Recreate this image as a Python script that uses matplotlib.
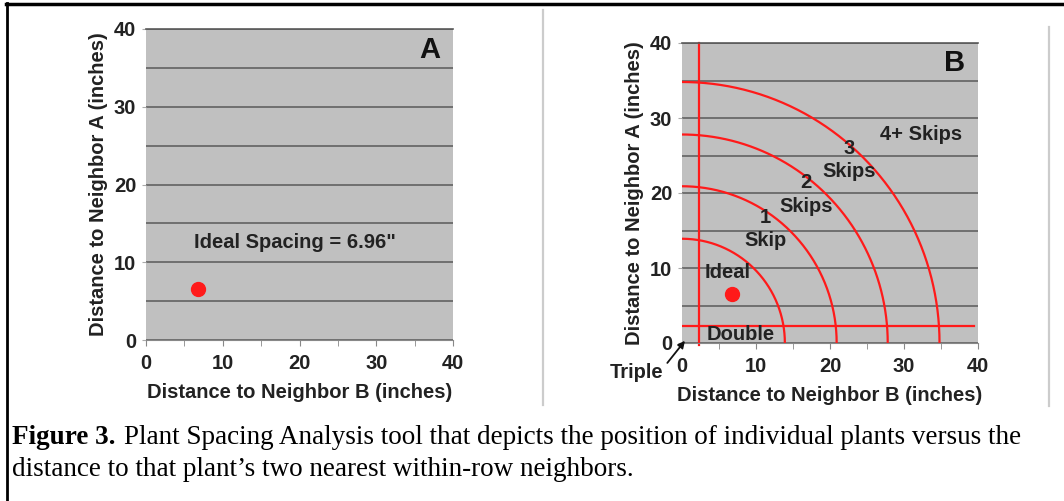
import numpy as np
import matplotlib
matplotlib.use("Agg")
import matplotlib.pyplot as plt
from matplotlib.lines import Line2D

# values
major_ticks = [0, 10, 20, 30, 40]
minor_ticks = [5, 15, 25, 35]
ideal_spacing = 6.96
plant_x = [6.8]
plant_y = [6.6]
double_limit = 2.3                      # red lines in panel B
skip_radii = [13.9, 20.9, 27.8, 34.8]   # arcs in panel B
zone_labels = ["1\nSkip", "2\nSkips", "3\nSkips", "4+ Skips"]
zone_x = [11.3, 16.8, 22.6, 32.3]
zone_y = [15.2, 19.8, 24.4, 27.8]

W, H = 1064, 501
GRAY_BG = "#c0c0c0"
GRID = "#5a5a5a"
TXT = "#222222"
RED = "#ff1a1a"
FS = 14.5

plt.rcParams["font.family"] = ["Liberation Sans", "DejaVu Sans"]

fig = plt.figure(figsize=(W / 100, H / 100), dpi=100)


def px_axes(left, top, right, bottom):
    return fig.add_axes([left / W, 1 - bottom / H, (right - left) / W, (bottom - top) / H])


def style_panel(ax, letter):
    ax.set_facecolor(GRAY_BG)
    ax.set_xlim(0, 40)
    ax.set_ylim(0, 40)
    ax.set_xticks(major_ticks)
    ax.set_xticks(minor_ticks, minor=True)
    ax.set_yticks(major_ticks)
    ax.set_yticks(minor_ticks, minor=True)
    ax.yaxis.grid(True, which="both", color=GRID, lw=1.1)
    ax.set_axisbelow(True)
    for s in ["left", "right"]:
        ax.spines[s].set_visible(False)
    ax.spines["top"].set_color(GRID)
    ax.spines["top"].set_linewidth(1.2)
    ax.spines["bottom"].set_color("#888888")
    ax.tick_params(axis="x", which="both", direction="out", length=4, color="#888888",
                   labelsize=FS, labelcolor=TXT, pad=6)
    ax.tick_params(axis="y", which="major", direction="out", length=3, color="#aaaaaa",
                   labelsize=FS, labelcolor=TXT, pad=4)
    ax.tick_params(axis="y", which="minor", length=0)
    for lab in ax.get_xticklabels() + ax.get_yticklabels():
        lab.set_fontweight("bold")
    ax.set_xlabel("Distance to Neighbor B (inches)", fontsize=FS, fontweight="bold",
                  color=TXT, labelpad=7)
    ax.set_ylabel("Distance to Neighbor A (inches)", fontsize=FS, fontweight="bold",
                  color=TXT, labelpad=4)
    ax.text(38.3, 37.3, letter, fontsize=21, fontweight="bold", color="#111111",
            ha="right", va="center")


# panel A
axA = px_axes(146, 29, 453, 340)
style_panel(axA, "A")
axA.plot(plant_x, plant_y, "o", color=RED, ms=10, mec=RED)
axA.text(6.2, 12.5, 'Ideal Spacing = %.2f"' % ideal_spacing, fontsize=FS,
         fontweight="bold", color=TXT, va="center")

# panel B
axB = px_axes(682, 43, 978, 343)
style_panel(axB, "B")
axB.axvline(double_limit, color=RED, lw=1.6, clip_on=False, ymin=-0.005, ymax=1)
axB.plot([0, 39.5], [double_limit, double_limit], color=RED, lw=1.6)
theta = np.linspace(0, np.pi / 2, 200)
for r in skip_radii:
    axB.plot(r * np.cos(theta), r * np.sin(theta), color=RED, lw=1.6)
axB.plot(plant_x, plant_y, "o", color=RED, ms=10, mec=RED)
axB.text(6.1, 9.4, "Ideal", fontsize=FS, fontweight="bold", color=TXT,
         ha="center", va="center")
axB.text(7.9, 1.1, "Double", fontsize=FS, fontweight="bold", color=TXT,
         ha="center", va="center")
for lab, x, y in zip(zone_labels, zone_x, zone_y):
    axB.text(x, y, lab, fontsize=FS, fontweight="bold", color=TXT,
             ha="center", va="center", linespacing=1.3)
axB.annotate("Triple", xy=(0.4, 0.3), xytext=(-6.1, -3.9), textcoords="data",
             fontsize=FS, fontweight="bold", color=TXT, ha="center", va="center",
             annotation_clip=False,
             arrowprops=dict(arrowstyle="-|>", color="#111111", lw=1.3,
                             relpos=(1.0, 0.75), shrinkA=1, shrinkB=0,
                             mutation_scale=10))

# frame lines of the page
fig.add_artist(Line2D([6 / W, 1], [1 - 4 / H, 1 - 4 / H], color="black", lw=2.5))
fig.add_artist(Line2D([7 / W, 7 / W], [0, 1 - 3 / H], color="black", lw=2))
fig.add_artist(Line2D([543 / W, 543 / W], [1 - 10 / H, 1 - 405 / H], color="#cccccc", lw=1.6))
fig.add_artist(Line2D([1049 / W, 1049 / W], [1 - 27 / H, 1 - 406 / H], color="#cccccc", lw=1.6))

# caption
cap_font = ["Liberation Serif", "DejaVu Serif"]
CFS = 19.5
t1 = fig.text(12 / W, 1 - 437 / H, "Figure 3.", fontsize=CFS, fontweight="bold",
              family=cap_font, va="center", color="black")
fig.canvas.draw()
bb = t1.get_window_extent()
fig.text((bb.x1 + 8) / W, 1 - 437 / H,
         "Plant Spacing Analysis tool that depicts the position of individual plants versus the",
         fontsize=CFS, family=cap_font, va="center", color="black")
fig.text(12 / W, 1 - 469 / H,
         "distance to that plant\u2019s two nearest within-row neighbors.",
         fontsize=CFS, family=cap_font, va="center", color="black")

fig.savefig("out.png", dpi=100)
